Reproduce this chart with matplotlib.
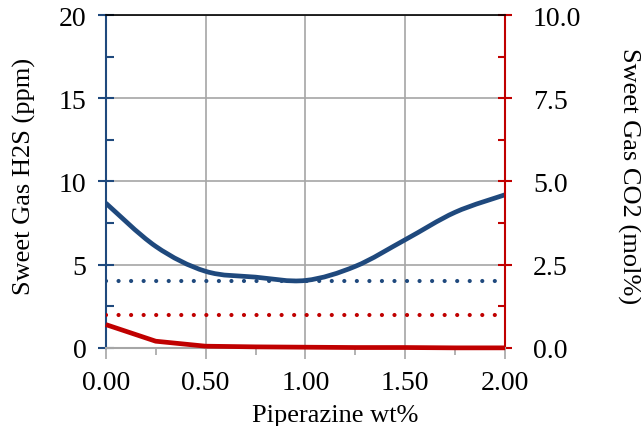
import numpy as np
import matplotlib.pyplot as plt
from matplotlib.path import Path
from matplotlib.patches import PathPatch
from matplotlib.ticker import MultipleLocator, FormatStrFormatter

piperazine_wt = [0.0, 0.25, 0.5, 0.75, 1.0, 1.25, 1.5, 1.75, 2.0]
h2s_ppm = [8.7, 6.1, 4.6, 4.25, 4.05, 4.9, 6.5, 8.15, 9.2]
co2_mol = [0.7, 0.2, 0.05, 0.03, 0.02, 0.01, 0.01, 0.0, 0.0]
h2s_spec = 4.0
co2_spec = 1.0

blue = '#1F497D'
red = '#C00000'
grid_gray = '#A6A6A6'


def smooth_path(xs, ys, tension=1 / 6):
    # excel-style smoothed line: bezier segments through the points
    xs = np.asarray(xs, float)
    ys = np.asarray(ys, float)
    verts = [(xs[0], ys[0])]
    codes = [Path.MOVETO]
    n = len(xs)
    for i in range(n - 1):
        x0, y0 = (xs[i - 1], ys[i - 1]) if i > 0 else (xs[i], ys[i])
        x3, y3 = (xs[i + 2], ys[i + 2]) if i + 2 < n else (xs[i + 1], ys[i + 1])
        c1 = (xs[i] + (xs[i + 1] - x0) * tension, ys[i] + (ys[i + 1] - y0) * tension)
        c2 = (xs[i + 1] - (x3 - xs[i]) * tension, ys[i + 1] - (y3 - ys[i]) * tension)
        verts += [c1, c2, (xs[i + 1], ys[i + 1])]
        codes += [Path.CURVE4] * 3
    return Path(verts, codes)


plt.rcParams['font.family'] = ['Liberation Serif', 'DejaVu Serif']

fig = plt.figure(figsize=(6.41, 4.27), dpi=100)
ax = fig.add_axes([0.165, 0.183, 0.623, 0.7795])
ax2 = ax.twinx()

ax.grid(True, color=grid_gray, linewidth=1.2, zorder=0)
ax.set_axisbelow(True)

dots = (0, (0.01, 3.0))
ax.plot([piperazine_wt[0], piperazine_wt[-1]], [h2s_spec, h2s_spec], color=blue,
        linewidth=3.0, linestyle=dots, dash_capstyle='round', zorder=3)
ax.add_patch(PathPatch(smooth_path(piperazine_wt, h2s_ppm), facecolor='none',
                       edgecolor=blue, linewidth=3.4, capstyle='butt', zorder=4))

ax2.plot([piperazine_wt[0], piperazine_wt[-1]], [co2_spec, co2_spec], color=red,
         linewidth=3.0, linestyle=dots, dash_capstyle='round', zorder=3)
ax2.plot(piperazine_wt, co2_mol, color=red, linewidth=3.4, solid_capstyle='butt',
         clip_on=False, zorder=4)

ax.set_xlim(0, 2)
ax.set_ylim(0, 20)
ax2.set_ylim(0, 10)

ax.xaxis.set_major_locator(MultipleLocator(0.5))
ax.xaxis.set_minor_locator(MultipleLocator(0.25))
ax.xaxis.set_major_formatter(FormatStrFormatter('%.2f'))
ax.yaxis.set_major_locator(MultipleLocator(5))
ax.yaxis.set_minor_locator(MultipleLocator(2.5))
ax2.yaxis.set_major_locator(MultipleLocator(2.5))
ax2.yaxis.set_minor_locator(MultipleLocator(1.25))
ax2.yaxis.set_major_formatter(FormatStrFormatter('%.1f'))

for s in ['left', 'right', 'top', 'bottom']:
    ax.spines[s].set_visible(False)
ax2.spines['left'].set_color(blue)
ax2.spines['left'].set_linewidth(1.5)
ax2.spines['right'].set_color(red)
ax2.spines['right'].set_linewidth(1.5)
ax2.spines['top'].set_color('black')
ax2.spines['top'].set_linewidth(1.2)
ax2.spines['bottom'].set_color(grid_gray)
ax2.spines['bottom'].set_linewidth(1.5)

ax.tick_params(axis='x', which='major', direction='out', length=8, width=1.2,
               color=grid_gray, labelsize=20, pad=8)
ax.tick_params(axis='x', which='minor', direction='out', length=5, width=1.2,
               color=grid_gray)
ax.tick_params(axis='y', which='major', direction='inout', length=12, width=1.5,
               color=blue, labelsize=20, pad=8)
ax.tick_params(axis='y', which='minor', direction='in', length=6, width=1.5,
               color=blue)
ax2.tick_params(axis='y', which='major', direction='inout', length=10, width=1.5,
                color=red, labelsize=20, pad=15)
ax2.tick_params(axis='y', which='minor', direction='in', length=5, width=1.5,
                color=red)

ax.set_xlabel('Piperazine wt%', fontsize=19)
ax.xaxis.set_label_coords(0.574, -0.168)
ax.set_ylabel('Sweet Gas H2S (ppm)', fontsize=19)
ax.yaxis.set_label_coords(-0.175, 0.518)
ax2.set_ylabel('Sweet Gas CO2 (mol%)', fontsize=19, rotation=-90, va='center')
ax2.yaxis.set_label_coords(1.308, 0.518)

fig.savefig('out.png', dpi=100)
